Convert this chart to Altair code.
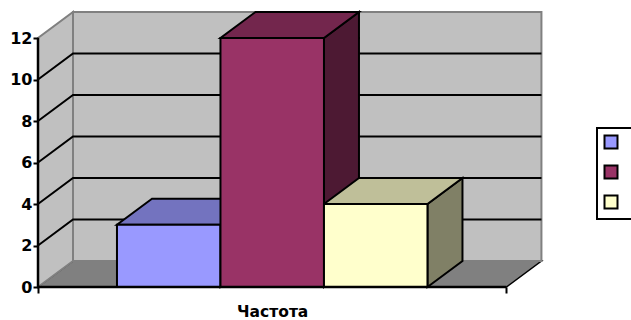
import altair as alt
import pandas as pd

# ---- data ----
series = ["Ряд1", "Ряд2", "Ряд3"]
values = [3, 12, 4]
front_colors = ["#9999ff", "#993366", "#ffffcc"]
top_colors = ["#7373bf", "#73264d", "#bfbf99"]
side_colors = ["#4d4d80", "#4d1933", "#808066"]
y_ticks = [0, 2, 4, 6, 8, 10, 12]
grid_values = [2, 4, 6, 8, 10]
category_title = "Частота"
y_max = 12

# ---- geometry (in scale units) ----
PX_X = 103.5          # pixels per bar width
PX_Y = 20.75          # pixels per value unit
PLOT_W = 507
PLOT_H = 277
GAP = 0.763           # gap before first / after last bar (bar widths)
DX = 35 / PX_X        # depth offset in x units
DY = 26 / PX_Y        # depth offset in value units
FRONT_W = len(values) + 2 * GAP
X_DOM = [0, PLOT_W / PX_X]
Y_DOM = [0, PLOT_H / PX_Y]

FONT = "DejaVu Sans"

y_axis = alt.Axis(values=y_ticks, domain=False, grid=False, ticks=True, tickColor="black",
                  tickWidth=2, tickSize=5, labelFont=FONT, labelFontWeight="bold",
                  labelFontSize=16, labelColor="black", labelPadding=1, title=None,
                  labelFlush=False, labelOverlap=False, zindex=1)
x_axis = alt.Axis(values=[0, FRONT_W], domain=False, grid=False, labels=False, ticks=True,
                  tickColor="black", tickWidth=2, tickSize=6, title=category_title,
                  titleFont=FONT, titleFontWeight="bold", titleFontSize=15.5, titleColor="black",
                  titleX=round(FRONT_W * PX_X / 2, 1), titleY=29, titleBaseline="alphabetic",
                  titleAlign="center", zindex=1)

X_SCALE = alt.Scale(domain=X_DOM, nice=False, zero=False)
Y_SCALE = alt.Scale(domain=Y_DOM, nice=False, zero=False)


def X(f):
    return alt.X(f"{f}:Q", scale=X_SCALE, axis=x_axis)


def Y(f):
    return alt.Y(f"{f}:Q", scale=Y_SCALE, axis=y_axis)


# walls and floor
floor_df = pd.DataFrame({"y": [0, DY], "x": [0, DX], "x2": [FRONT_W, FRONT_W + DX]})
floor = alt.Chart(floor_df).mark_area(orient="horizontal", fill="#808080", stroke="black",
                                      strokeWidth=1.5).encode(
    y=Y("y"), x=X("x"), x2="x2")

left_df = pd.DataFrame({"x": [0, DX], "y": [0, DY], "y2": [y_max, y_max + DY]})
left_wall = alt.Chart(left_df).mark_area(fill="#c0c0c0", stroke="#808080", strokeWidth=2).encode(
    x=X("x"), y=Y("y"), y2="y2")

back_df = pd.DataFrame({"x": [DX], "x2": [FRONT_W + DX], "y": [DY], "y2": [y_max + DY]})
back_wall = alt.Chart(back_df).mark_rect(fill="#c0c0c0", stroke="#808080", strokeWidth=2).encode(
    x=X("x"), x2="x2", y=Y("y"), y2="y2")

# gridlines on left and back walls
grid_rows = []
for v in grid_values:
    grid_rows += [
        {"g": v, "k": 0, "x": 0, "y": v},
        {"g": v, "k": 1, "x": DX, "y": v + DY},
        {"g": v, "k": 2, "x": FRONT_W + DX, "y": v + DY},
    ]
grid = alt.Chart(pd.DataFrame(grid_rows)).mark_line(color="black", strokeWidth=2).encode(
    x=X("x"), y=Y("y"), detail="g:N", order="k:Q")

# bars
side_rows, top_rows, front_rows = [], [], []
for i, (s, v) in enumerate(zip(series, values)):
    xl = GAP + i
    xr = xl + 1
    side_rows += [
        {"s": s, "fill": side_colors[i], "x": xr, "y": 0, "y2": v},
        {"s": s, "fill": side_colors[i], "x": xr + DX, "y": DY, "y2": v + DY},
    ]
    top_rows += [
        {"s": s, "fill": top_colors[i], "y": v, "x": xl, "x2": xr},
        {"s": s, "fill": top_colors[i], "y": v + DY, "x": xl + DX, "x2": xr + DX},
    ]
    front_rows.append({"s": s, "x": xl, "x2": xr, "y": 0, "y2": v})

sides = alt.Chart(pd.DataFrame(side_rows)).mark_area(stroke="black", strokeWidth=2, opacity=1).encode(
    x=X("x"), y=Y("y"), y2="y2", color=alt.Color("fill:N", scale=None), detail="s:N")

tops = alt.Chart(pd.DataFrame(top_rows)).mark_area(orient="horizontal", stroke="black",
                                                   strokeWidth=2, opacity=1).encode(
    y=Y("y"), x=X("x"), x2="x2", color=alt.Color("fill:N", scale=None), detail="s:N")

fronts = alt.Chart(pd.DataFrame(front_rows)).mark_rect(stroke="black", strokeWidth=2, opacity=1).encode(
    x=X("x"), x2="x2", y=Y("y"), y2="y2",
    color=alt.Color("s:N", scale=alt.Scale(domain=series, range=front_colors),
                    legend=alt.Legend(title=None, orient="none", legendX=559, legendY=118,
                                      labelExpr="''", symbolType="square", symbolSize=169,
                                      symbolStrokeColor="black", symbolStrokeWidth=2,
                                      symbolOpacity=1, fillColor="white", strokeColor="black",
                                      padding=6.5, rowPadding=9, labelFontSize=1,
                                      labelOffset=8)))

# axis lines
yline = alt.Chart(pd.DataFrame({"x": [0], "y": [0], "y2": [y_max]})).mark_rule(
    color="black", strokeWidth=2.5).encode(x=X("x"), y=Y("y"), y2="y2")
xline = alt.Chart(pd.DataFrame({"x": [0], "x2": [FRONT_W], "y": [0]})).mark_rule(
    color="black", strokeWidth=2.5).encode(x=X("x"), x2="x2", y=Y("y"))

chart = alt.layer(floor, left_wall, back_wall, grid, sides, tops, fronts, xline, yline).properties(
    width=PLOT_W, height=PLOT_H,
    padding={"left": 38, "top": 10, "right": 86, "bottom": 33},
    autosize=alt.AutoSizeParams(type="none"),
    background="white",
).configure_view(stroke=None).configure_legend(strokeWidth=2)

chart.save("out.html", embed_options={"renderer": "svg", "actions": False})
